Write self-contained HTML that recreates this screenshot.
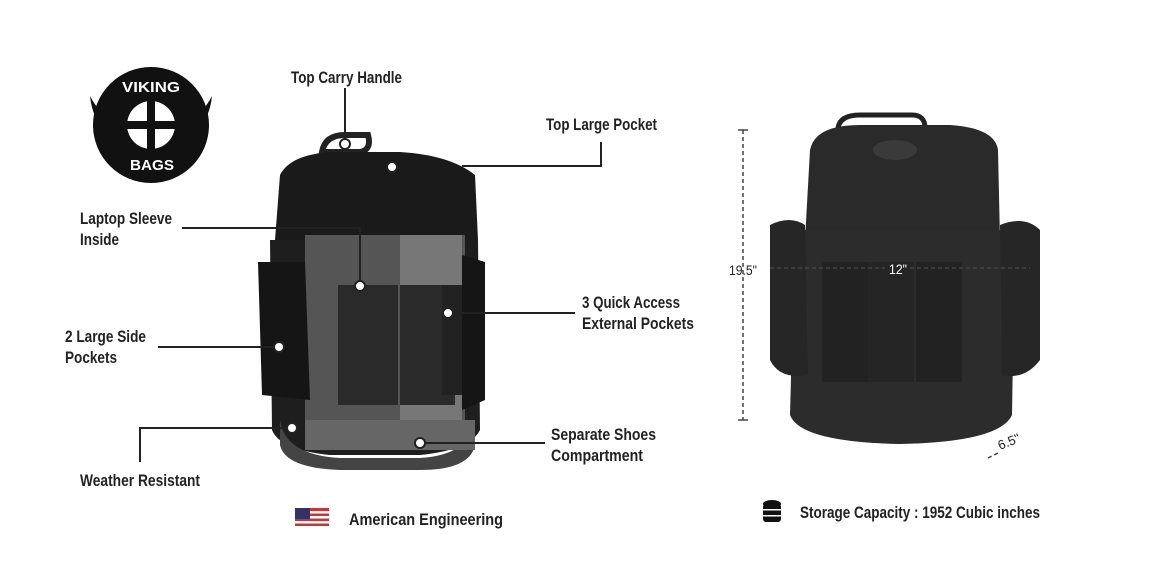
<!DOCTYPE html>
<html><head><meta charset="utf-8"><style>
html,body{margin:0;padding:0;background:#fff;}
svg text{font-family:"Liberation Sans Narrow","Liberation Sans",sans-serif;font-weight:bold;font-size:17px;fill:#222;}
</style></head><body>
<svg width="1153" height="559" viewBox="0 0 1153 559" xmlns="http://www.w3.org/2000/svg">
<!-- logo -->
<g>
<path d="M90,96 Q93,125 112,132 L112,118 Q100,115 90,96Z" fill="#111"/>
<path d="M212,96 Q209,125 190,132 L190,118 Q202,115 212,96Z" fill="#111"/>
<circle cx="151" cy="125" r="58" fill="#111"/>
<circle cx="151" cy="125" r="24" fill="#fff"/>
<rect x="147" y="101" width="8" height="48" fill="#111"/>
<rect x="127" y="121" width="48" height="8" fill="#111"/>
<text x="122" y="92" textLength="58" lengthAdjust="spacingAndGlyphs" style="fill:#fff;font-size:15px">VIKING</text>
<text x="130" y="170" textLength="44" lengthAdjust="spacingAndGlyphs" style="fill:#fff;font-size:15px">BAGS</text>
</g>
<!-- left backpack -->
<g>
<path d="M322,152 Q325,135 345,135 L368,135 Q372,150 360,152Z" fill="none" stroke="#222" stroke-width="6"/>
<path d="M280,175 Q290,155 330,152 L400,152 Q450,155 475,175 L478,240 L275,240Z" fill="#1a1a1a"/>
<path d="M270,240 L478,240 L480,430 Q470,450 420,455 L330,455 Q280,450 272,430Z" fill="#1e1e1e"/>
<rect x="305" y="235" width="160" height="185" fill="#555"/>
<rect x="400" y="235" width="62" height="185" fill="#777"/>
<rect x="338" y="285" width="60" height="120" fill="#2a2a2a"/>
<rect x="400" y="285" width="55" height="120" fill="#2a2a2a"/>
<rect x="442" y="285" width="40" height="110" fill="#222"/>
<path d="M258,262 L305,262 L310,400 L262,395Z" fill="#151515"/>
<path d="M462,255 L485,262 L485,400 L462,410Z" fill="#151515"/>
<path d="M280,420 Q285,455 340,458 L420,458 Q470,455 475,420 L475,445 Q470,470 420,470 L340,470 Q285,468 280,445Z" fill="#444"/>
<rect x="305" y="420" width="170" height="30" fill="#666"/>
</g>
<!-- callouts -->
<g stroke="#222" stroke-width="2" fill="none">
<line x1="345" y1="88" x2="345" y2="142"/>
<polyline points="601,142 601,166 462,166"/>
<polyline points="182,228 360,228 360,285"/>
<line x1="460" y1="313" x2="575" y2="313"/>
<line x1="158" y1="347" x2="278" y2="347"/>
<polyline points="140,462 140,428 290,428"/>
<line x1="422" y1="443" x2="545" y2="443"/>
</g>
<g fill="#fff" stroke="#222" stroke-width="2">
<circle cx="345" cy="144" r="5"/><circle cx="392" cy="167" r="5"/><circle cx="360" cy="286" r="5"/>
<circle cx="448" cy="313" r="5"/><circle cx="279" cy="347" r="5"/><circle cx="292" cy="428" r="5"/><circle cx="420" cy="443" r="5"/>
</g>
<text x="291" y="83" textLength="111" lengthAdjust="spacingAndGlyphs">Top Carry Handle</text>
<text x="546" y="130" textLength="111" lengthAdjust="spacingAndGlyphs">Top Large Pocket</text>
<text x="80" y="224" textLength="92" lengthAdjust="spacingAndGlyphs">Laptop Sleeve</text>
<text x="80" y="245" textLength="39" lengthAdjust="spacingAndGlyphs">Inside</text>
<text x="582" y="308" textLength="98" lengthAdjust="spacingAndGlyphs">3 Quick Access</text>
<text x="582" y="329" textLength="112" lengthAdjust="spacingAndGlyphs">External Pockets</text>
<text x="65" y="342" textLength="81" lengthAdjust="spacingAndGlyphs">2 Large Side</text>
<text x="65" y="363" textLength="52" lengthAdjust="spacingAndGlyphs">Pockets</text>
<text x="551" y="440" textLength="105" lengthAdjust="spacingAndGlyphs">Separate Shoes</text>
<text x="551" y="461" textLength="92" lengthAdjust="spacingAndGlyphs">Compartment</text>
<text x="80" y="486" textLength="120" lengthAdjust="spacingAndGlyphs">Weather Resistant</text>
<!-- flag -->
<g>
<rect x="295" y="508" width="34" height="20" fill="#c33"/>
<rect x="295" y="511" width="34" height="2.5" fill="#fff"/><rect x="295" y="516" width="34" height="2.5" fill="#fff"/>
<rect x="295" y="521" width="34" height="2.5" fill="#fff"/><rect x="295" y="526" width="34" height="2" fill="#fff"/>
<rect x="295" y="508" width="15" height="11" fill="#336"/>
</g>
<text x="349" y="525" textLength="154" lengthAdjust="spacingAndGlyphs">American Engineering</text>
<!-- right backpack photo -->
<g>
<path d="M838,128 Q840,115 860,115 L912,115 Q925,115 925,128" fill="none" stroke="#222" stroke-width="5"/>
<path d="M810,150 Q815,125 860,125 L950,125 Q995,128 998,150 L1000,240 L805,240Z" fill="#2a2a2a"/>
<path d="M795,230 L1015,230 L1012,415 Q1000,442 900,444 Q800,442 790,415Z" fill="#2c2c2c"/>
<path d="M770,225 Q790,215 805,225 L808,375 Q780,380 770,360Z" fill="#262626"/>
<path d="M1000,225 Q1025,215 1040,230 L1040,360 Q1025,380 1002,375Z" fill="#262626"/>
<rect x="822" y="262" width="46" height="120" fill="#222"/>
<rect x="868" y="262" width="46" height="120" fill="#252525"/>
<rect x="916" y="262" width="46" height="120" fill="#222"/>
<ellipse cx="895" cy="150" rx="22" ry="10" fill="#3a3a3a"/>
</g>
<!-- dimensions -->
<g stroke="#444" stroke-width="1.5" stroke-dasharray="4,3" fill="none">
<line x1="743" y1="130" x2="743" y2="420"/>
<line x1="770" y1="268" x2="885" y2="268"/>
<line x1="910" y1="268" x2="1030" y2="268"/>
<line x1="988" y1="458" x2="1000" y2="452"/>
</g>
<g stroke="#444" stroke-width="1.5"><line x1="738" y1="130" x2="748" y2="130"/><line x1="738" y1="420" x2="748" y2="420"/></g>
<text x="729" y="275" textLength="28" lengthAdjust="spacingAndGlyphs" style="font-size:14px;font-weight:normal">19.5"</text>
<text x="889" y="274" textLength="18" lengthAdjust="spacingAndGlyphs" style="font-size:14px;font-weight:normal;fill:#fff">12"</text>
<text x="1000" y="450" transform="rotate(-22 1000 450)" style="font-size:13px;font-weight:normal">6.5"</text>
<!-- db icon -->
<g fill="#111">
<ellipse cx="772" cy="504" rx="9" ry="4"/><rect x="763" y="504" width="18" height="18" rx="3"/>
<rect x="763" y="509" width="18" height="1.5" fill="#fff"/><rect x="763" y="515" width="18" height="1.5" fill="#fff"/>
</g>
<text x="800" y="518" textLength="240" lengthAdjust="spacingAndGlyphs">Storage Capacity : 1952 Cubic inches</text>
</svg>
</body></html>
